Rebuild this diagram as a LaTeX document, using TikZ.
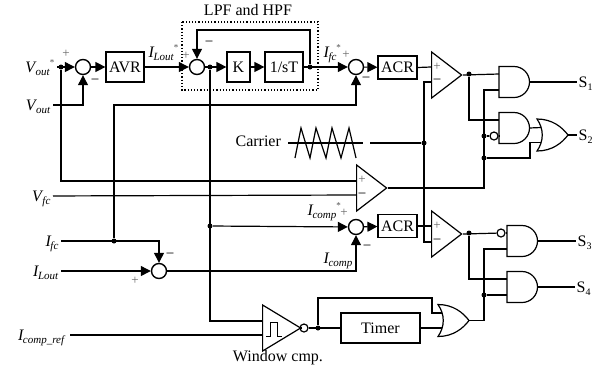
\documentclass[tikz,border=0pt]{standalone}
\usepackage{fontspec}
\setmainfont{Liberation Serif}
\usetikzlibrary{arrows.meta, positioning, calc, shapes.geometric}

\newcommand{\sgl}[2]{\textit{#1}\kern-1pt{\fontsize{11}{11}\selectfont\raisebox{-3pt}{\textit{#2}}}}
\newcommand{\sstar}{\raisebox{7pt}{\fontsize{9}{9}\selectfont\color{black!70}*}}

\begin{document}
\begin{tikzpicture}[x=1pt, y=-1pt, line width=1.2pt, >={Triangle[length=10pt,width=10pt]},
    font=\fontsize{16}{16}\selectfont,
    sumc/.style={circle, draw, inner sep=0, minimum size=15pt, line width=1.4pt},
    dot/.style={circle, fill, inner sep=0, minimum size=5pt},
    bubble/.style={circle, draw, inner sep=0, minimum size=8pt},
    block/.style={rectangle, draw, inner sep=0, minimum height=30pt},
    acr/.style={block, minimum width=39pt, minimum height=23pt},
    comparator/.style={isosceles triangle, isosceles triangle stretches, shape border rotate=0,
      draw, inner sep=0, minimum width=46pt, minimum height=30pt, anchor=lower side},
    siglab/.style={inner ysep=0, inner xsep=2pt, text height=13pt, text depth=3pt, anchor=east},
    outlab/.style={siglab, inner xsep=1pt, anchor=west},
    plus/.style={inner sep=0, text=black!60, font=\fontsize{13}{13}\selectfont},
    minus/.style={inner sep=0, font=\fontsize{15}{15}\selectfont},
    pics/andg/.style={code={
      \draw (0,-15.5) -- (15,-15.5) arc[start angle=90, end angle=-90, radius=15.5pt] -- (0,15.5) -- cycle;
      \coordinate (-in1) at (0,-8);
      \coordinate (-in2) at (0,8);
      \coordinate (-out) at (30.5,0);}},
    pics/org/.style={code={
      \draw (0,-16) .. controls (15,-16) and (25,-8) .. (31,0) .. controls (25,8) and (15,16) .. (0,16)
        .. controls (7,6) and (7,-6) .. (0,-16) -- cycle;
      \coordinate (-in1) at (4,-7.5);
      \coordinate (-in2) at (4,7.5);
      \coordinate (-out) at (31,0);}}]

  \useasboundingbox (0,0) rectangle (605,368);

  % inputs
  \node[siglab] (vref) at (57,67) {\sgl{V}{out}\sstar};
  \node[siglab] (vfb) at (53,105) {\sgl{V}{out}};
  \node[siglab] (vfc) at (53,196) {\sgl{V}{fc}};
  \node[siglab] (ifc) at (61,241) {\sgl{I}{fc}};
  \node[siglab] (ilout) at (61,271) {\sgl{I}{Lout}};
  \node[siglab, inner xsep=4pt] (iref) at (70,335) {\sgl{I}{comp\_ref}};

  % upper loop
  \node[sumc] (sum1) at (83,67) {};
  \node[block, minimum width=38pt] (avr) at (125,67) {AVR};
  \node[sumc] (sum2) at (197,67) {};
  \node[block, minimum width=23pt] (kgain) at (238.5,67) {K};
  \node[block, minimum width=38pt] (integ) at (284,67) {1/sT};
  \node[sumc] (sum3) at (356,67) {};
  \node[acr] (acr1) at (397.5,67.5) {ACR};
  \node[comparator] (cmp1) at (431,75) {};
  \node[dot] (dvref) at (61,67) {};
  \node[dot] (dsum2) at (210,67) {};
  \node[dot] (dinteg) at (310,67) {};
  \coordinate (fbtop) at (250,30);
  \coordinate (cmp1p) at (431,67);
  \coordinate (cmp1n) at (431,82);
  \draw[dotted] (182,22) rectangle (318,90);
  \node[inner sep=0] (lpftitle) at (248,10) {LPF and HPF};

  % middle
  \node[comparator] (cmp3) at (356,188) {};
  \coordinate (cmp3p) at (356,181);
  \coordinate (cmp3n) at (356,195);
  \node[inner sep=0, anchor=base west] (carrier) at (235,146) {Carrier};
  \coordinate (cwl) at (288,143);
  \coordinate (cwr) at (363,143);
  \coordinate (cout) at (370,143);
  \node[dot] (dcar) at (424,143) {};
  \node[dot] (difc) at (114,241) {};
  \coordinate (ifbk) at (250,105);

  % lower loop
  \node[sumc] (sum5) at (159,271) {};
  \node[sumc] (sum4) at (356,227) {};
  \node[acr] (acr2) at (397.5,226) {ACR};
  \node[comparator] (cmp2) at (431,234) {};
  \coordinate (cmp2p) at (431,226);
  \coordinate (cmp2n) at (431,242);
  \node[dot] (dcomp) at (210,226) {};
  \node[comparator, minimum height=38pt] (win) at (262,328) {};
  \coordinate (win1) at (262,321);
  \coordinate (win2) at (262,335);
  \node[bubble] (winbub) at (304,328) {};
  \node[dot] (dwin) at (318,328) {};
  \node[block, minimum width=79pt] (timer) at (380.5,328) {Timer};
  \coordinate (looptr) at (432,298);
  \node[inner sep=0] (wintitle) at (278,358) {Window cmp.};

  % gates
  \pic (and1) at (499,82) {andg};
  \pic (and2) at (499,128) {andg};
  \pic (or1) at (537,135) {org};
  \pic (and3) at (507,241) {andg};
  \pic (and4) at (507,287) {andg};
  \pic (or2) at (438,320.5) {org};
  \node[bubble] (bub2) at (494,136) {};
  \node[bubble] (bub3) at (501,233) {};
  \node[dot] (dcmp1) at (469,74) {};
  \node[dot] (dcmp2) at (469,233) {};
  \coordinate (bus1) at (484,188);
  \node[dot] (dbus1a) at (484,136) {};
  \node[dot] (dbus1b) at (484,158) {};
  \coordinate (orjog) at (530,158);
  \coordinate (bus2) at (484,320.5);
  \node[dot] (dbus2) at (484,295) {};
  \node[outlab] (s1) at (577,82) {S\raisebox{-3pt}{\fontsize{10}{10}\selectfont 1}};
  \node[outlab] (s2) at (577,135) {S\raisebox{-3pt}{\fontsize{10}{10}\selectfont 2}};
  \node[outlab] (s3) at (576,241) {S\raisebox{-3pt}{\fontsize{10}{10}\selectfont 3}};
  \node[outlab] (s4) at (575,287) {S\raisebox{-3pt}{\fontsize{10}{10}\selectfont 4}};

  % upper wires
  \draw[->] (vref) -- (sum1);
  \draw[->] (vfb) -| (sum1);
  \draw[->] (sum1) -- (avr);
  \draw[->] (avr) -- (sum2);
  \draw[->] (sum2) -- (kgain);
  \draw[->] (kgain) -- (integ);
  \draw[->] (integ) -- (sum3);
  \draw[->] (dinteg) |- (fbtop) -| (sum2);
  \draw[->] (sum3) -- (acr1);
  \draw (acr1.east) -- (cmp1p);
  \draw[->] (difc) |- (ifbk) -| (sum3);
  \draw (dvref) |- (cmp3p);
  \draw (vfc) -- (cmp3n);
  \draw (dsum2) |- (win1);
  \draw (cmp1n) -| (dcar.center) |- (cmp2n);

  % carrier
  \draw (cwl) -- (cwr);
  \draw (cout) -- (dcar);
  \draw (295,158) -- (301,128) -- (310,158) -- (316,128) -- (326,158) -- (332,128) -- (341,158) -- (349,128) -- (356,158);

  % lower wires
  \draw[->] (ifc) -| (sum5);
  \draw[->] (ilout) -- (sum5);
  \draw[->] (sum5) -| (sum4);
  \draw[->] (dcomp) -- (sum4);
  \draw[->] (sum4) -- (acr2);
  \draw (acr2.east) -- (cmp2p);
  \draw (iref) -- (win2);
  \draw (win.apex) -- (winbub);
  \draw (winbub) -- (timer);
  \draw (dwin) |- (looptr) |- (or2-in1);
  \draw (timer) -- (or2-in2);
  \draw[line width=.9pt] (266,336) -- (270,336) -- (270,322) -- (277,322) -- (277,336) -- (282,336);

  % logic wires
  \draw (cmp1.apex) -- (and1-in1);
  \draw (dcmp1) |- (and2-in1);
  \draw (cmp3.apex) -- (bus1) |- (and1-in2);
  \draw (dbus1a) -- (bub2);
  \draw (bub2) -- (and2-in2);
  \draw (dbus1b) -- (orjog) |- (or1-in2);
  \draw (and2-out) -- (or1-in1);
  \draw (and1-out) -- (s1);
  \draw (or1-out) -- (s2);
  \draw (cmp2.apex) -- (bub3);
  \draw (bub3) -- (and3-in1);
  \draw (dcmp2) |- (and4-in1);
  \draw (or2-out) -- (bus2) |- (and3-in2);
  \draw (dbus2) -- (and4-in2);
  \draw (and3-out) -- (s3);
  \draw (and4-out) -- (s4);

  % labels
  \node[inner sep=0, anchor=base west] (ilref) at (148,57) {\sgl{I}{Lout}\sstar};
  \node[inner sep=0, anchor=base west] (ifcref) at (323,57) {\sgl{I}{fc}\sstar};
  \node[inner sep=0, anchor=base west] (icref) at (307,215) {\sgl{I}{comp}\sstar};
  \node[inner sep=0, anchor=base west] (icomp) at (323,263) {\sgl{I}{comp}};

  % signs
  \node[plus] (p1) at (66,54) {+};
  \node[minus] (m1) at (95,82) {\textminus};
  \node[plus] (p2) at (186,56) {+};
  \node[minus] (m2) at (209,44) {\textminus};
  \node[plus] (p3) at (346,55) {+};
  \node[minus] (m3) at (366,80) {\textminus};
  \node[plus] (p4) at (344,213) {+};
  \node[minus] (m4) at (367,248) {\textminus};
  \node[minus] (m5) at (170,256) {\textminus};
  \node[plus] (p5) at (135,281) {+};
  \node[plus] (p6) at (437,67) {+};
  \node[minus] (m6) at (437,82) {\textminus};
  \node[plus] (p7) at (362,180) {+};
  \node[minus] (m7) at (362,196) {\textminus};
  \node[plus] (p8) at (437,226) {+};
  \node[minus] (m8) at (437,242) {\textminus};
\end{tikzpicture}
\end{document}
